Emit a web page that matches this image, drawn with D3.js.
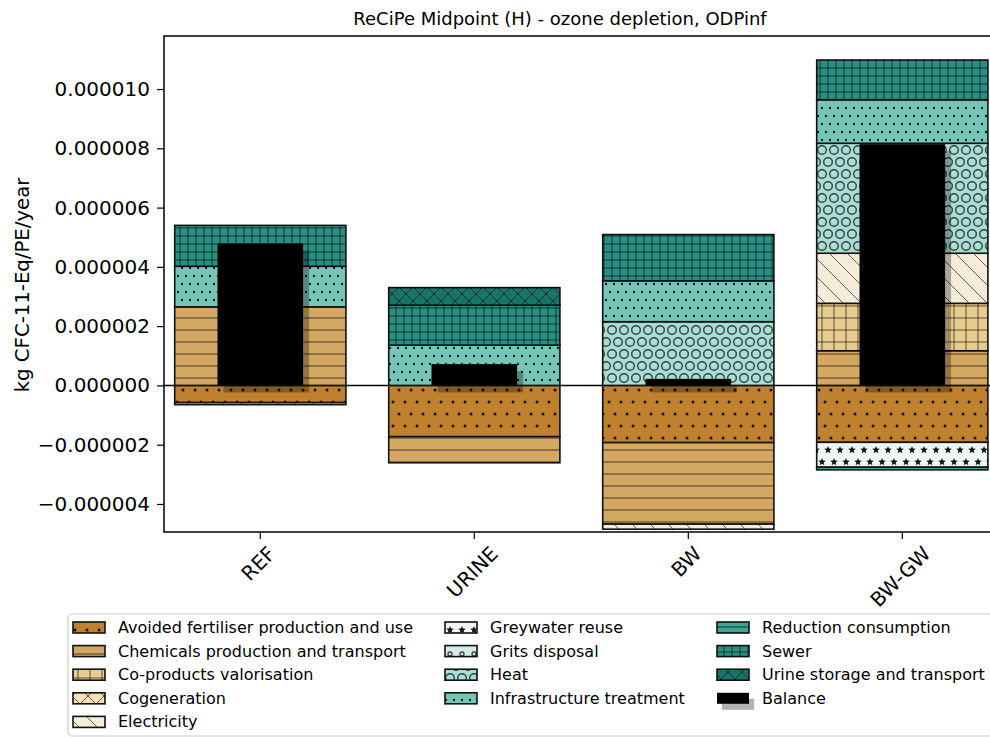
<!DOCTYPE html>
<html><head><meta charset="utf-8">
<script src="https://cdn.jsdelivr.net/npm/d3@7"></script>
<style>
body{margin:0;background:#fff;}
text{font-family:"DejaVu Sans",sans-serif;fill:#000;}
</style></head>
<body><svg id="chart" width="990" height="738"></svg>
<script>
// ---------- data ----------
const categories = ["REF", "URINE", "BW", "BW-GW"];
const seriesNames = ["Avoided fertiliser production and use","Chemicals production and transport","Co-products valorisation","Cogeneration","Electricity","Greywater reuse","Grits disposal","Heat","Infrastructure treatment","Reduction consumption","Sewer","Urine storage and transport"];
const avoidedFertiliser = [-0.58e-6, -1.73e-6, -1.93e-6, -1.92e-6];
const chemicals        = [2.65e-6, -0.88e-6, -2.75e-6, 1.17e-6];
const coProducts       = [0, 0, 0, 1.60e-6];
const cogeneration     = [0, 0, 0, 0];
const electricity      = [-0.07e-6, 0, -0.17e-6, 1.69e-6];
const greywaterReuse   = [0, 0, 0, -0.84e-6];
const gritsDisposal    = [0, 0, 0, 0];
const heat             = [0, 0, 2.15e-6, 3.71e-6];
const infrastructure   = [1.37e-6, 1.36e-6, 1.38e-6, 1.47e-6];
const reductionConsumption = [0, 0, 0, -0.09e-6];
const sewer            = [1.38e-6, 1.35e-6, 1.56e-6, 1.34e-6];
const urineStorage     = [0, 0.59e-6, 0, 0];
const balance          = [4.79e-6, 0.72e-6, 0.22e-6, 8.14e-6];
const yTicks = [-0.000004, -0.000002, 0, 0.000002, 0.000004, 0.000006, 0.000008, 0.000010];
const seriesValues = [avoidedFertiliser, chemicals, coProducts, cogeneration, electricity, greywaterReuse, gritsDisposal, heat, infrastructure, reductionConsumption, sewer, urineStorage];

// ---------- styles ----------
const colors = ["#bf812d","#d4a862","#e8cb8e","#f3e0b5","#f5edda","#eef4f3","#d3ece8","#a9ddd4","#74c6b8","#3fa597","#2a8f83","#16756a"];
const hatches = ["dotsL","hlines","grid12","x16","diag","stars","smallo","bigO","dotsS","hlines6","grid8","x14"];

const svg = d3.select("#chart");
const defs = svg.append("defs");
const HC = "rgba(0,0,0,0.75)";

function starPath(cx, cy, R, r){
  let p = "";
  for (let k=0;k<10;k++){
    const a = -Math.PI/2 + k*Math.PI/5;
    const rr = k%2===0 ? R : r;
    p += (k===0?"M":"L") + (cx+rr*Math.cos(a)).toFixed(2)+","+(cy+rr*Math.sin(a)).toFixed(2);
  }
  return p+"Z";
}

hatches.forEach((h,i)=>{
  let w=12, ht=12;
  if (h==="dotsL"||h==="bigO"||h==="smallo"||h==="stars"){w=12;ht=24;}
  if (h==="dotsS"){w=8;ht=16;}
  if (h==="grid8"){w=8;ht=8;}
  if (h==="hlines6"){w=6;ht=6;}
  if (h==="diag"){w=18;ht=18;}
  if (h==="x16"){w=16;ht=16;}
  if (h==="x14"){w=14;ht=14;}
  const p = defs.append("pattern").attr("id","pat"+i).attr("patternUnits","userSpaceOnUse")
    .attr("width",w).attr("height",ht);
  p.append("rect").attr("width",w).attr("height",ht).attr("fill",colors[i]);
  if (h==="dotsL"){
    [[3,6],[9,18]].forEach(d=>p.append("circle").attr("cx",d[0]).attr("cy",d[1]).attr("r",1.5).attr("fill","#111"));
  } else if (h==="dotsS"){
    [[2,4],[6,12]].forEach(d=>p.append("circle").attr("cx",d[0]).attr("cy",d[1]).attr("r",1.15).attr("fill","#111"));
  } else if (h==="hlines"){
    p.append("path").attr("d","M0,6 L12,6").attr("stroke","rgba(0,0,0,0.55)").attr("stroke-width",1.2);
  } else if (h==="hlines6"){
    p.append("path").attr("d","M0,3 L6,3").attr("stroke",HC).attr("stroke-width",1);
  } else if (h==="grid12"||h==="grid8"){
    p.append("path").attr("d",`M0,${ht/2} L${w},${ht/2} M${w/2},0 L${w/2},${ht}`).attr("stroke","rgba(0,0,0,0.6)").attr("stroke-width",1);
  } else if (h==="x16"||h==="x14"){
    p.append("path").attr("d",`M0,0 L${w},${ht} M${w},0 L0,${ht}`).attr("stroke","rgba(0,0,0,0.6)").attr("stroke-width",1);
  } else if (h==="diag"){
    p.append("path").attr("d",`M0,0 L${w},${ht} M-2,${ht-2} L2,${ht+2} M${w-2},-2 L${w+2},2`).attr("stroke","rgba(0,0,0,0.6)").attr("stroke-width",1);
  } else if (h==="bigO"||h==="smallo"){
    const r = h==="bigO"?4.3:2;
    [[6,6],[0,18],[12,18]].forEach(d=>p.append("circle").attr("cx",d[0]).attr("cy",d[1]).attr("r",r).attr("fill","none").attr("stroke","rgba(0,0,0,0.7)").attr("stroke-width",1.4));
  } else if (h==="stars"){
    [[6,6],[0,18],[12,18]].forEach(d=>p.append("path").attr("d",starPath(d[0],d[1],4,1.7)).attr("fill","#111"));
  }
});

// ---------- layout ----------
const axL = 164, axT = 36, axB = 532, axR = 1000;
const x = d3.scaleLinear().domain([-0.45, 3.45]).range([axL, axL + 3.9*214]);
const y = d3.scaleLinear().domain([-4.946e-6, 11.79e-6]).range([axB, axT]);
const barW = 0.8, balW = 0.4;

defs.append("clipPath").attr("id","plotclip").append("rect").attr("x",axL).attr("y",axT).attr("width",axR-axL).attr("height",axB-axT);
const plot = svg.append("g").attr("clip-path","url(#plotclip)");

// zero line
plot.append("line").attr("x1",axL).attr("x2",axR).attr("y1",y(0)).attr("y2",y(0)).attr("stroke","#000").attr("stroke-width",1.5);

// stacked bars
categories.forEach((c,ci)=>{
  let pos=0, neg=0;
  seriesValues.forEach((vals,si)=>{
    const v = vals[ci];
    if (!v) return;
    let y0,y1;
    if (v>0){y0=pos;y1=pos+v;pos=y1;} else {y0=neg;y1=neg+v;neg=y1;}
    plot.append("rect")
      .attr("x",x(ci-barW/2)).attr("width",x(barW)-x(0))
      .attr("y",y(Math.max(y0,y1))).attr("height",Math.abs(y(y0)-y(y1)))
      .attr("fill","url(#pat"+si+")").attr("stroke","#111").attr("stroke-width",1.6);
  });
});
// balance bars with shadow
categories.forEach((c,ci)=>{
  const v = balance[ci];
  const bx = x(ci-balW/2), bw = x(balW)-x(0);
  const by = y(Math.max(0,v)), bh = Math.abs(y(0)-y(v));
  plot.append("rect").attr("x",bx+6).attr("y",by+7).attr("width",bw).attr("height",bh).attr("fill","rgba(0,0,0,0.3)");
  plot.append("rect").attr("x",bx).attr("y",by).attr("width",bw).attr("height",bh).attr("fill","#000");
});

// axes frame
svg.append("rect").attr("x",axL).attr("y",axT).attr("width",axR-axL).attr("height",axB-axT)
  .attr("fill","none").attr("stroke","#000").attr("stroke-width",1.5);

// y axis
const yAxis = d3.axisLeft(y).tickValues(yTicks).tickSize(7).tickPadding(7)
  .tickFormat(d=>{ const s = Math.abs(d).toFixed(6); return (d<0?"\u2212":"")+s; });
const gy = svg.append("g").attr("transform",`translate(${axL},0)`).call(yAxis);
gy.select(".domain").remove();
gy.selectAll(".tick line").attr("stroke","#000").attr("stroke-width",1.2);
gy.selectAll(".tick text").attr("font-size",20).attr("font-family","DejaVu Sans");

// x axis
const gx = svg.append("g").attr("transform",`translate(0,${axB})`);
categories.forEach((c,ci)=>{
  gx.append("line").attr("x1",x(ci)).attr("x2",x(ci)).attr("y1",0).attr("y2",7).attr("stroke","#000").attr("stroke-width",1.2);
  const t = gx.append("text").text(c).attr("font-size",20).attr("text-anchor","middle").attr("dominant-baseline","central");
  const w = t.node().getComputedTextLength();
  const s = (w + 20)/Math.SQRT2;
  t.attr("transform",`translate(${x(ci)-2},${11 + s/2}) rotate(-45)`);
});

// y label
svg.append("text").text("kg CFC-11-Eq/PE/year").attr("font-size",19.7).attr("text-anchor","middle")
  .attr("transform","translate(29,285) rotate(-90)");

// title
svg.append("text").text("ReCiPe Midpoint (H) - ozone depletion, ODPinf").attr("font-size",18)
  .attr("text-anchor","middle").attr("x",560).attr("y",25);

// legend
const lg = svg.append("g");
lg.append("rect").attr("x",68).attr("y",614).attr("width",940).attr("height",122).attr("rx",4)
  .attr("fill","#fff").attr("stroke","#ccc").attr("stroke-width",1.2);
const colX = [73, 445, 717];
const legendItems = seriesNames.map((n,i)=>({name:n, fill:"url(#pat"+i+")"})).concat([{name:"Balance", fill:"#000", bal:true}]);
const perCol = [5,4,4];
let idx=0;
perCol.forEach((n,col)=>{
  for (let r=0;r<n;r++,idx++){
    const it = legendItems[idx];
    const cy = 627.5 + r*23.6;
    if (it.bal){
      lg.append("rect").attr("x",colX[col]+5).attr("y",cy-5.5+6).attr("width",32).attr("height",11).attr("fill","rgba(0,0,0,0.3)");
      lg.append("rect").attr("x",colX[col]).attr("y",cy-5.5).attr("width",32).attr("height",11).attr("fill","#000");
    } else {
      lg.append("rect").attr("x",colX[col]).attr("y",cy-5.5).attr("width",32).attr("height",11)
        .attr("fill",it.fill).attr("stroke","#111").attr("stroke-width",1.6);
    }
    lg.append("text").text(it.name).attr("x",colX[col]+45).attr("y",cy).attr("dominant-baseline","central").attr("font-size",16);
  }
});
</script></body></html>
